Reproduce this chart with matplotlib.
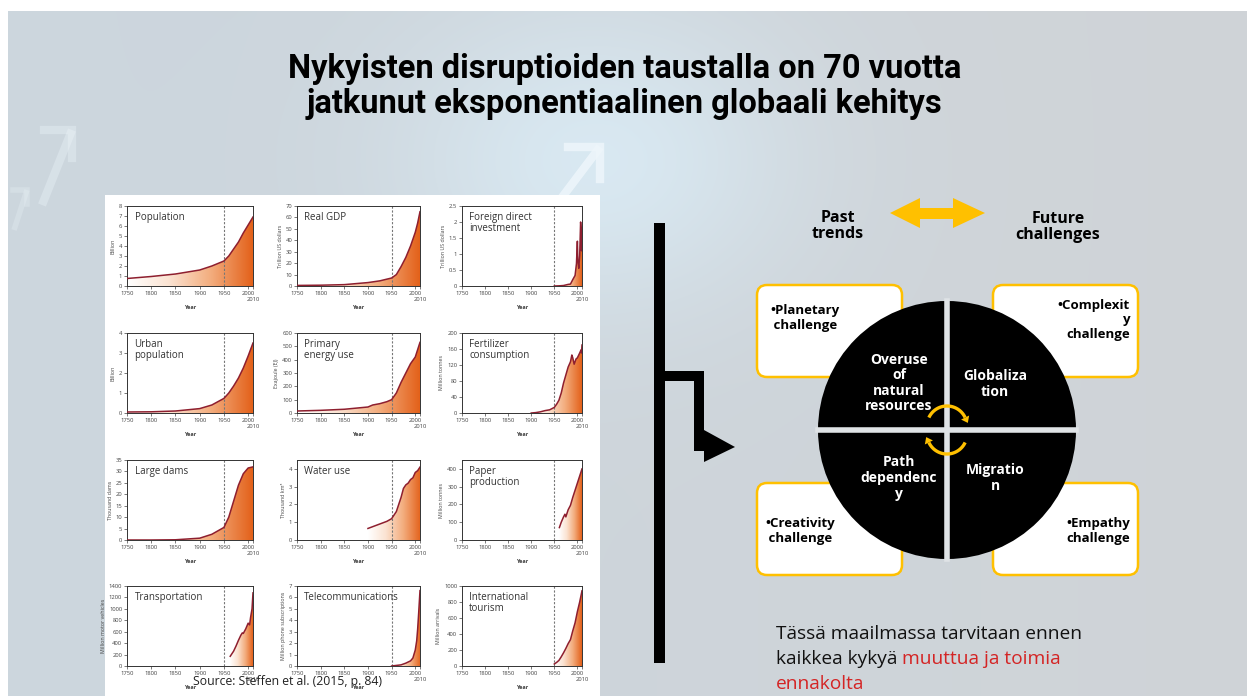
import numpy as np
import matplotlib
matplotlib.use('Agg')
import matplotlib.pyplot as plt
from matplotlib.patches import Polygon, Rectangle, FancyBboxPatch, Circle
from matplotlib.colors import LinearSegmentedColormap

plt.rcParams['font.family'] = ['Open Sans', 'DejaVu Sans']

W, H = 1247, 696

# Great acceleration data (Steffen et al. 2015)
pop_year = [1750, 1800, 1850, 1900, 1925, 1950, 1960, 1970, 1980, 1990, 2000, 2010]
pop_val = [0.75, 0.95, 1.2, 1.6, 2.0, 2.5, 3.0, 3.7, 4.4, 5.3, 6.1, 6.9]

gdp_year = [1750, 1800, 1850, 1900, 1925, 1950, 1960, 1970, 1980, 1990, 2000, 2005, 2010]
gdp_val = [0.5, 0.7, 1.2, 3.0, 4.5, 7.0, 10, 17, 25, 35, 47, 55, 65]

fdi_year = [1950, 1960, 1970, 1980, 1985, 1990, 1995, 1998, 2000, 2001, 2003, 2005, 2007, 2008, 2009, 2010]
fdi_val = [0, 0.005, 0.015, 0.05, 0.06, 0.2, 0.33, 0.7, 1.4, 0.8, 0.55, 0.95, 2.0, 1.8, 1.1, 1.25]

urban_year = [1750, 1800, 1850, 1900, 1925, 1950, 1960, 1970, 1980, 1990, 2000, 2010]
urban_val = [0.05, 0.06, 0.1, 0.22, 0.4, 0.73, 1.0, 1.35, 1.75, 2.25, 2.85, 3.5]

energy_year = [1750, 1800, 1850, 1900, 1910, 1925, 1940, 1950, 1960, 1970, 1980, 1990, 2000, 2010]
energy_val = [15, 20, 28, 45, 60, 70, 85, 100, 150, 230, 300, 370, 420, 530]

fert_year = [1900, 1910, 1920, 1930, 1940, 1950, 1955, 1960, 1965, 1970, 1975, 1980, 1985,
             1988, 1990, 1993, 1997, 2000, 2005, 2008, 2009, 2010]
fert_val = [0, 1, 3, 6, 8, 14, 22, 32, 50, 75, 95, 115, 128, 145, 138, 122, 135, 138, 150, 158, 150, 170]

dams_year = [1750, 1800, 1850, 1900, 1925, 1950, 1960, 1970, 1980, 1990, 2000, 2010]
dams_val = [0, 0, 0.1, 0.8, 2.5, 5.5, 10, 17, 24, 29, 31.5, 32]

water_year = [1900, 1910, 1920, 1930, 1940, 1950, 1960, 1970, 1975, 1980, 1985, 1990, 1995, 2000, 2005, 2010]
water_val = [0.65, 0.75, 0.85, 0.95, 1.05, 1.2, 1.6, 2.4, 2.9, 3.1, 3.2, 3.4, 3.5, 3.8, 3.9, 4.1]

paper_year = [1961, 1965, 1970, 1973, 1975, 1980, 1985, 1990, 1995, 2000, 2005, 2010]
paper_val = [70, 100, 130, 145, 130, 170, 195, 240, 280, 320, 360, 400]

transport_year = [1963, 1970, 1975, 1980, 1985, 1988, 1990, 1995, 2000, 2003, 2005, 2008, 2010]
transport_val = [170, 260, 350, 450, 540, 580, 570, 650, 750, 720, 850, 1000, 1280]

telecom_year = [1950, 1960, 1970, 1980, 1990, 1995, 2000, 2003, 2005, 2007, 2010]
telecom_val = [0, 0.05, 0.1, 0.25, 0.45, 0.7, 1.4, 2.2, 3.2, 4.5, 6.6]

tourism_year = [1950, 1955, 1960, 1965, 1970, 1975, 1980, 1985, 1990, 1995, 2000, 2005, 2010]
tourism_val = [25, 45, 70, 115, 165, 220, 280, 330, 440, 540, 680, 800, 940]

chart_titles = ['Population', 'Real GDP', 'Foreign direct\ninvestment',
                'Urban\npopulation', 'Primary\nenergy use', 'Fertilizer\nconsumption',
                'Large dams', 'Water use', 'Paper\nproduction',
                'Transportation', 'Telecommunications', 'International\ntourism']
chart_units = ['Billion', 'Trillion US dollars', 'Trillion US dollars',
               'Billion', 'Exajoule (EJ)', 'Million tonnes',
               'Thousand dams', 'Thousand km³', 'Million tonnes',
               'Million motor vehicles', 'Million phone subscriptions', 'Million arrivals']
chart_ymax = [8, 70, 2.5, 4, 600, 200, 35, 4.5, 450, 1400, 7, 1000]
chart_ystep = [1, 10, 0.5, 1, 100, 40, 5, 1, 100, 200, 1, 200]
chart_series = [(pop_year, pop_val), (gdp_year, gdp_val), (fdi_year, fdi_val),
                (urban_year, urban_val), (energy_year, energy_val), (fert_year, fert_val),
                (dams_year, dams_val), (water_year, water_val), (paper_year, paper_val),
                (transport_year, transport_val), (telecom_year, telecom_val),
                (tourism_year, tourism_val)]

# diagram texts
quad_texts = ['Overuse\nof\nnatural\nresources', 'Globaliza\ntion', 'Path\ndependenc\ny', 'Migratio\nn']
box_texts = ['•Planetary\n challenge', '•Complexit\ny\nchallenge', '•Creativity\n challenge', '•Empathy\nchallenge']

line_c = '#8e1f2f'
fill_cmap = LinearSegmentedColormap.from_list('acc', ['#ffffff', '#fbe3d2', '#f3ad7e', '#e3611a'])
yellow = '#ffc000'

fig = plt.figure(figsize=(W / 100, H / 100), dpi=100)
bg = fig.add_axes([0, 0, 1, 1])
bg.set_xlim(0, W)
bg.set_ylim(H, 0)
bg.axis('off')

# slide background with a light glow
yy, xx = np.mgrid[0:H:4, 0:W:4].astype(float)
c_left = np.array([0.80, 0.84, 0.87])
c_right = np.array([0.815, 0.83, 0.845])
t = (xx / W)[..., None]
img = c_left * (1 - t) + c_right * t
g = np.exp(-((xx - 590) ** 2 / (2 * 140 ** 2) + (yy - 150) ** 2 / (2 * 110 ** 2)))[..., None]
glow_c = np.array([0.86, 0.93, 0.97])
img = img * (1 - 0.8 * g) + glow_c * 0.8 * g
bg.imshow(img, extent=[8, W, H, 11], aspect='auto', interpolation='bilinear', zorder=0)

# faint decorative arrows
for (x0, y0, x1, y1, hl, a, lw) in [(42, 205, 72, 130, 28, 0.35, 6), (14, 230, 27, 190, 14, 0.25, 4),
                                    (560, 200, 600, 147, 32, 0.85, 6)]:
    bg.plot([x0, x1], [y0, y1], color='#eef6fb', alpha=a, lw=lw, solid_capstyle='butt', zorder=1)
    bg.plot([x1 - hl, x1, x1], [y1, y1, y1 + hl], color='#eef6fb', alpha=a, lw=lw,
            solid_joinstyle='miter', zorder=1)

# title
bg.text(625, 69, 'Nykyisten disruptioiden taustalla on 70 vuotta', ha='center', va='center',
        fontsize=23.5, fontweight='bold', family='Roboto', color='black', zorder=5)
bg.text(624, 104, 'jatkunut eksponentiaalinen globaali kehitys', ha='center', va='center',
        fontsize=23.5, fontweight='bold', family='Roboto', color='black', zorder=5)

# white panel behind the small charts
bg.add_patch(Rectangle((105, 195), 495, 501, facecolor='white', edgecolor='none', zorder=2))

# small multiples
col_left = [127, 297, 462]
col_w = [126, 123, 120]
row_top = [206, 333, 460, 586]
row_h = 80
for i, (yrs, vals) in enumerate(chart_series):
    r, c = divmod(i, 3)
    l, tp = col_left[c], row_top[r]
    ax = fig.add_axes([l / W, 1 - (tp + row_h) / H, col_w[c] / W, row_h / H])
    ymax = chart_ymax[i]
    im = ax.imshow(np.linspace(0, 1, 256)[None, :], extent=[yrs[0], yrs[-1], 0, ymax],
                   aspect='auto', cmap=fill_cmap, origin='lower', zorder=1)
    verts = [(yrs[0], 0)] + list(zip(yrs, vals)) + [(yrs[-1], 0)]
    poly = Polygon(verts, closed=True, facecolor='none', edgecolor='none')
    ax.add_patch(poly)
    im.set_clip_path(poly)
    ax.plot(yrs, vals, color=line_c, lw=1.1, zorder=3)
    ax.axvline(1950, color='#777777', lw=0.8, ls=(0, (2, 1.5)), zorder=2)
    ax.set_xlim(1750, 2010)
    ax.set_ylim(0, ymax)
    ax.set_xticks([1750, 1800, 1850, 1900, 1950, 2000])
    ax.set_xticks([2010], minor=True)
    ax.set_xticklabels(['1750', '1800', '1850', '1900', '1950', '2000'])
    ax.set_xticklabels(['2010'], minor=True)
    yt = np.arange(0, ymax + 1e-9, chart_ystep[i])
    ax.set_yticks(yt)
    ax.set_yticklabels(['%g' % v for v in yt])
    ax.tick_params(labelsize=4.2, length=2, width=0.5, pad=1.5, colors='#444444')
    ax.tick_params(axis='x', which='minor', length=2, width=0.5, pad=6, labelsize=4.2, colors='#444444')
    for s in ax.spines.values():
        s.set_linewidth(0.7)
        s.set_color('#333333')
    ax.set_xlabel('Year', fontsize=4, labelpad=2, color='#444444', fontweight='bold')
    ax.set_ylabel(chart_units[i], fontsize=3.8, labelpad=2, color='#444444')
    ax.text(0.06, 0.93, chart_titles[i], transform=ax.transAxes, ha='left', va='top',
            fontsize=7, color='#333333', linespacing=1.0, zorder=4)
    ax.set_facecolor('none')

fig.text(193 / W, 1 - 681 / H, 'Source: Steffen et al. (2015, p. 84)', ha='left', va='center',
         fontsize=8.8, color='#222222')

# black bar with elbow arrow
bg.add_patch(Rectangle((654, 223), 11, 440, facecolor='black', edgecolor='none', zorder=3))
bg.add_patch(Polygon([(665, 371), (704, 371), (704, 430), (735, 447), (704, 462), (704, 451),
                      (694, 451), (694, 381), (665, 381)], closed=True,
                     facecolor='black', edgecolor='none', zorder=3))

# past / future header
bg.text(838, 226, 'Past\ntrends', ha='center', va='center', fontsize=11.5, fontweight='bold',
        linespacing=1.05, zorder=5)
bg.text(1058, 227, 'Future\nchallenges', ha='center', va='center', fontsize=11.5, fontweight='bold',
        linespacing=1.05, zorder=5)
bg.add_patch(Polygon([(890, 213), (920, 198), (920, 208), (953, 208), (953, 198), (985, 213),
                      (953, 228), (953, 219), (920, 219), (920, 228)], closed=True,
                     facecolor=yellow, edgecolor='none', zorder=4))

# four challenge boxes
box_pos = [(757, 285), (993, 285), (757, 483), (993, 483)]
for (bx, by) in box_pos:
    bg.add_patch(FancyBboxPatch((bx, by), 145, 92, boxstyle='round,pad=0,rounding_size=10',
                                facecolor='white', edgecolor=yellow, lw=1.8, zorder=4))
bg.text(770, 318, box_texts[0], ha='left', va='center', fontsize=9.5, fontweight='bold',
        linespacing=1.15, zorder=6)
bg.text(1130, 320, box_texts[1], ha='right', va='center', fontsize=9.5, fontweight='bold',
        linespacing=1.15, zorder=6)
bg.text(765, 531, box_texts[2], ha='left', va='center', fontsize=9.5, fontweight='bold',
        linespacing=1.15, zorder=6)
bg.text(1130, 531, box_texts[3], ha='right', va='center', fontsize=9.5, fontweight='bold',
        linespacing=1.15, zorder=6)

# black circle cut into quadrants
cx, cy, rad = 947, 430, 129
bg.add_patch(Circle((cx, cy), rad, facecolor='black', edgecolor='none', zorder=7))
bg.plot([cx, cx], [cy - rad, cy + rad], color='#dfe3e6', lw=4, zorder=8)
bg.plot([cx - rad, cx + rad], [cy, cy], color='#dfe3e6', lw=4, zorder=8)
quad_xy = [(899, 383), (995, 384), (899, 478), (995, 478)]
for (qx, qy), txt in zip(quad_xy, quad_texts):
    bg.text(qx, qy, txt, ha='center', va='center', color='white', fontsize=10, fontweight='bold',
            linespacing=1.15, zorder=9)


# cycle arrows in the middle
def cycle_arc(acx, acy, r, t0, t1):
    tt = np.radians(np.linspace(t0, t1, 40))
    px = acx + r * np.cos(tt)
    py = acy - r * np.sin(tt)
    bg.plot(px, py, color=yellow, lw=2.4, solid_capstyle='butt', zorder=10)
    d = np.array([px[-1] - px[-2], py[-1] - py[-2]])
    d = d / np.hypot(*d)
    n = np.array([-d[1], d[0]])
    end = np.array([px[-1], py[-1]])
    bg.add_patch(Polygon([end + d * 6, end + n * 4.5, end - n * 4.5], closed=True,
                         facecolor=yellow, edgecolor='none', zorder=10))


cycle_arc(947, 426, 20, 155, 25)
cycle_arc(947, 434, 20, -25, -155)

# closing statement
bg.text(776, 634, 'Tässä maailmassa tarvitaan ennen', ha='left', va='center', fontsize=13.8,
        color='#111111', zorder=5)
t_black = bg.text(776, 659, 'kaikkea kykyä ', ha='left', va='center', fontsize=13.8,
                  color='#111111', zorder=5)
renderer = fig.canvas.get_renderer()
ext = t_black.get_window_extent(renderer)
red_x = bg.transData.inverted().transform((ext.x1, 0))[0]
bg.text(red_x, 659, 'muuttua ja toimia', ha='left', va='center', fontsize=13.8, color='#d42424', zorder=5)
bg.text(776, 684, 'ennakolta', ha='left', va='center', fontsize=13.8, color='#d42424', zorder=5)

fig.savefig('out.png', dpi=100)
